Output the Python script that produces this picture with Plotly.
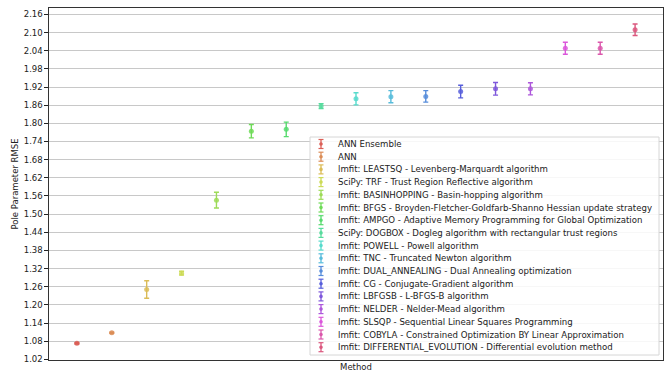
import colorsys
import plotly.graph_objects as go

methods = [
    "ANN Ensemble",
    "ANN",
    "lmfit: LEASTSQ - Levenberg-Marquardt algorithm",
    "SciPy: TRF - Trust Region Reflective algorithm",
    "lmfit: BASINHOPPING - Basin-hopping algorithm",
    "lmfit: BFGS - Broyden-Fletcher-Goldfarb-Shanno Hessian update strategy",
    "lmfit: AMPGO - Adaptive Memory Programming for Global Optimization",
    "SciPy: DOGBOX - Dogleg algorithm with rectangular trust regions",
    "lmfit: POWELL - Powell algorithm",
    "lmfit: TNC - Truncated Newton algorithm",
    "lmfit: DUAL_ANNEALING - Dual Annealing optimization",
    "lmfit: CG - Conjugate-Gradient algorithm",
    "lmfit: LBFGSB - L-BFGS-B algorithm",
    "lmfit: NELDER - Nelder-Mead algorithm",
    "lmfit: SLSQP - Sequential Linear Squares Programming",
    "lmfit: COBYLA - Constrained Optimization BY Linear Approximation",
    "lmfit: DIFFERENTIAL_EVOLUTION - Differential evolution method",
]
rmse = [1.073, 1.108, 1.251, 1.305, 1.546, 1.774, 1.780, 1.857, 1.881, 1.888,
        1.889, 1.905, 1.914, 1.914, 2.048, 2.048, 2.109]
rmse_err = [0.002, 0.002, 0.029, 0.006, 0.026, 0.022, 0.024, 0.008, 0.020, 0.020,
            0.019, 0.021, 0.021, 0.020, 0.020, 0.020, 0.019]
y_ticks = [round(1.02 + 0.06 * k, 2) for k in range(20)]

# seaborn-like hls palette
n = len(methods)
colors = []
for i in range(n):
    h = (i / n + 0.01) % 1.0
    r, g, b = colorsys.hls_to_rgb(h, 0.6, 0.65)
    colors.append("rgb(%d,%d,%d)" % (round(r * 255), round(g * 255), round(b * 255)))

W, H = 672, 372
L, R, T, B = 49, 9, 8, 12
PW, PH = W - L - R, H - T - B

def px(x):
    return (x - L) / PW

def py(y):
    return (H - B - y) / PH

fig = go.Figure()
for i, (m, v, e) in enumerate(zip(methods, rmse, rmse_err)):
    fig.add_trace(go.Scatter(
        x=[i], y=[v], mode="markers", name=m, showlegend=False,
        marker=dict(color=colors[i], size=5, opacity=0.85),
        error_y=dict(type="data", array=[e], color=colors[i], thickness=1.4, width=2.5),
    ))

# custom legend (matplotlib-style compact)
shapes = []
annotations = []
box = dict(x0=310, x1=659, y0=137, y1=355)
shapes.append(dict(type="rect", xref="paper", yref="paper",
                   x0=px(box["x0"]), x1=px(box["x1"]), y0=py(box["y1"]), y1=py(box["y0"]),
                   line=dict(color="#d6d6d6", width=1), fillcolor="rgba(255,255,255,0.85)", layer="above"))
row0, dy = 144.0, 12.7
gx, tx = 321, 336
for i, m in enumerate(methods):
    yc = row0 + dy * i
    c = colors[i]
    shapes.append(dict(type="line", xref="paper", yref="paper", x0=px(gx), x1=px(gx),
                       y0=py(yc - 4.5), y1=py(yc + 4.5), line=dict(color=c, width=1.3), layer="above"))
    for cy in (yc - 4.5, yc + 4.5):
        shapes.append(dict(type="line", xref="paper", yref="paper", x0=px(gx - 2.5), x1=px(gx + 2.5),
                           y0=py(cy), y1=py(cy), line=dict(color=c, width=1.2), layer="above"))
    shapes.append(dict(type="circle", xref="paper", yref="paper", x0=px(gx - 1.8), x1=px(gx + 1.8),
                       y0=py(yc - 1.8), y1=py(yc + 1.8), line=dict(color=c, width=0),
                       fillcolor=c, layer="above"))
    annotations.append(dict(xref="paper", yref="paper", x=px(tx), y=py(yc), text=m,
                            showarrow=False, xanchor="left", yanchor="middle",
                            font=dict(family="DejaVu Sans", size=8.6, color="#222")))

fig.update_layout(
    width=W, height=H,
    margin=dict(l=L, r=R, t=T, b=B, autoexpand=False),
    paper_bgcolor="white", plot_bgcolor="white",
    font=dict(family="DejaVu Sans", size=8.5, color="#222"),
    shapes=shapes, annotations=annotations,
    xaxis=dict(range=[-0.8, n - 1 + 0.8], showticklabels=False, ticks="", showgrid=False,
               zeroline=False, showline=True, mirror=True, linecolor="#333", linewidth=1.2,
               title=dict(text="Method", standoff=4, font=dict(size=8.5))),
    yaxis=dict(range=[1.018, 2.181], tickvals=y_ticks, tickformat=".2f", ticks="outside",
               ticklen=3.5, tickcolor="#222", showgrid=True, gridcolor="#c8c8c8", gridwidth=1.2,
               zeroline=False, showline=True, mirror=True, linecolor="#333", linewidth=1.2,
               title=dict(text="Pole Parameter RMSE", standoff=3, font=dict(size=8.5))),
)

fig.write_html("out.html")
